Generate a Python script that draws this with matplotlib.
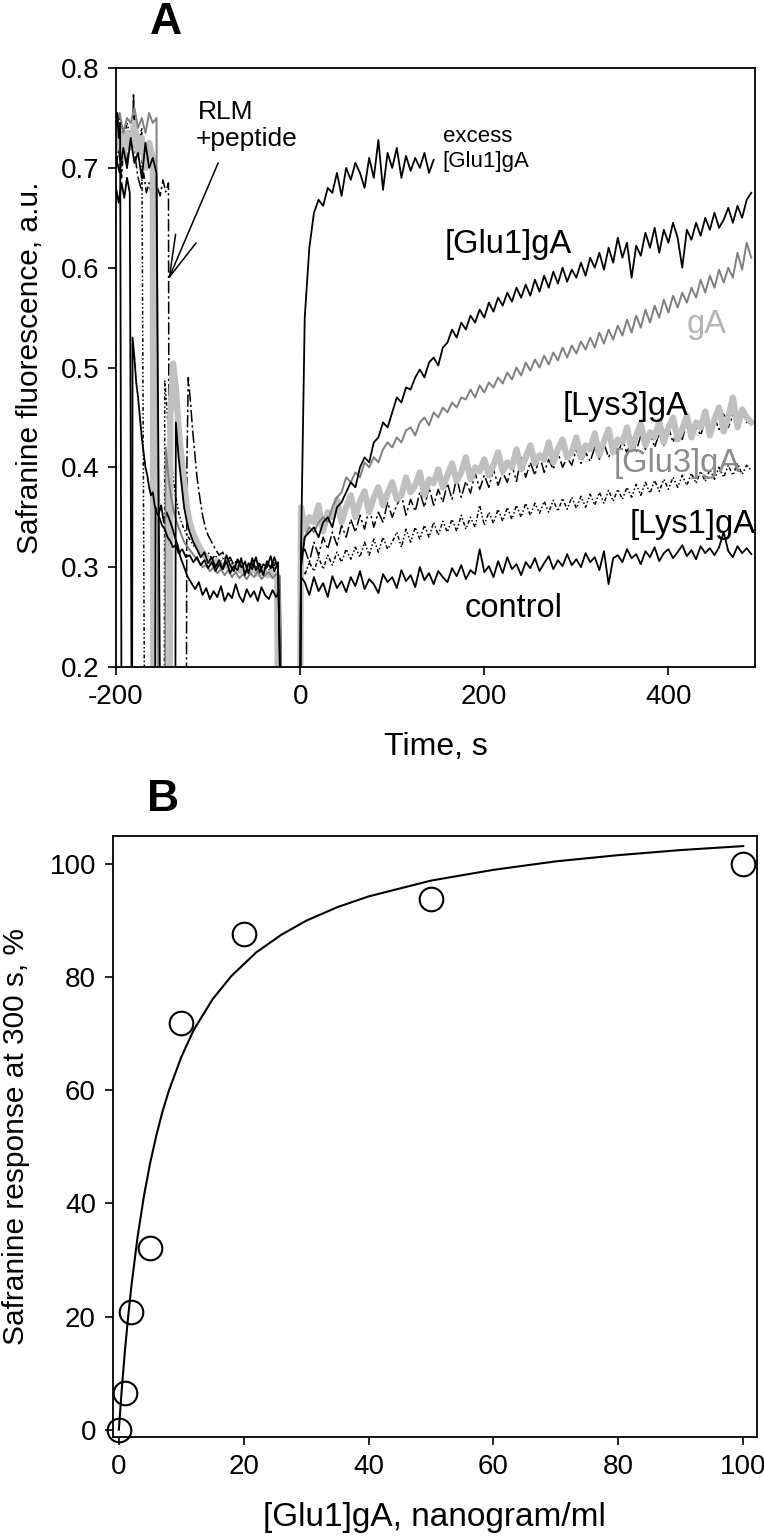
import numpy as np
import matplotlib
matplotlib.use("Agg")
import matplotlib.pyplot as plt

NARROW = ['Liberation Sans Narrow', 'Liberation Sans', 'DejaVu Sans']
REG = ['Liberation Sans', 'DejaVu Sans']
plt.rcParams['font.family'] = REG
plt.rcParams['axes.unicode_minus'] = False

# ---------------- Panel A data ----------------
# common post-addition time grid (s)
T_POST = [1] + list(range(5, 491, 5))

# excess [Glu1]gA
EXC_PRE_T = [-200, -198.5, -197, -195.5, -194, -182.5, -182, -180, -178, -176, -174, -172, -170, -168, -166, -164, -162, -160, -158, -156,
             -153, -150, -147, -144, -141, -138, -135, -132, -128, -124, -120, -116, -112, -108, -104, -100,
             -96, -92, -88, -84, -80, -76, -72, -68, -64, -60, -56, -52, -48, -44, -40, -36, -32, -28, -24, -21]
EXC_PRE_V = [0.74, 0.755, 0.73, 0.745, 0.15, 0.15, 0.53, 0.51, 0.485, 0.47, 0.45, 0.43, 0.415, 0.40, 0.392, 0.38, 0.372, 0.375, 0.362, 0.355,
             0.35, 0.342, 0.338, 0.33, 0.326, 0.32, 0.322, 0.314, 0.318, 0.31, 0.312, 0.305, 0.31, 0.302, 0.307, 0.299,
             0.305, 0.296, 0.303, 0.298, 0.306, 0.294, 0.301, 0.297, 0.309, 0.292, 0.304, 0.298, 0.31, 0.295, 0.303, 0.3, 0.311, 0.296, 0.305, 0.15]
EXC_POST = [0.32, 0.55, 0.62, 0.655, 0.668, 0.662, 0.68, 0.675, 0.695, 0.672,
            0.70, 0.688, 0.705, 0.695, 0.68, 0.71, 0.69, 0.728, 0.678, 0.715,
            0.70, 0.72, 0.69, 0.712, 0.697, 0.71, 0.70, 0.715, 0.695, 0.708]

# control
CTL_PRE_T = [-200, -197, -194, -191, -188, -185, -183, -157.5, -157, -154, -151, -148, -145, -142, -139, -136, -133, -130,
             -126, -122, -118, -114, -110, -106, -102, -98, -94, -90, -86, -82, -78, -74, -70, -66, -62, -58, -54, -50,
             -46, -42, -38, -34, -30, -26, -22, -20]
CTL_PRE_V = [0.68, 0.665, 0.685, 0.67, 0.69, 0.675, 0.15, 0.15, 0.36, 0.352, 0.362, 0.345, 0.355, 0.348, 0.34, 0.33, 0.322, 0.31,
             0.3, 0.29, 0.284, 0.278, 0.285, 0.272, 0.279, 0.268, 0.276, 0.27, 0.281, 0.266, 0.274, 0.269, 0.283, 0.271, 0.265, 0.278, 0.27, 0.276,
             0.266, 0.28, 0.272, 0.268, 0.277, 0.27, 0.278, 0.15]
CTL_POST = [0.29, 0.285, 0.272, 0.29, 0.276, 0.284, 0.27, 0.291, 0.279, 0.286,
            0.275, 0.29, 0.281, 0.296, 0.278, 0.288, 0.283, 0.274, 0.293, 0.285,
            0.29, 0.279, 0.297, 0.286, 0.292, 0.28, 0.3, 0.287, 0.294, 0.283,
            0.296, 0.29, 0.285, 0.299, 0.291, 0.302, 0.288, 0.297, 0.293, 0.318,
            0.295, 0.301, 0.29, 0.306, 0.294, 0.31, 0.298, 0.303, 0.292, 0.305,
            0.299, 0.309, 0.296, 0.304, 0.311, 0.298, 0.307, 0.301, 0.313, 0.302,
            0.308, 0.3, 0.314, 0.305, 0.31, 0.297, 0.316, 0.283, 0.309, 0.312,
            0.305, 0.318, 0.309, 0.313, 0.303, 0.316, 0.31, 0.32, 0.306, 0.314,
            0.318, 0.309, 0.315, 0.322, 0.311, 0.317, 0.308, 0.321, 0.314, 0.319,
            0.312, 0.32, 0.335, 0.316, 0.31, 0.321, 0.314, 0.319, 0.313]

# [Glu1]gA
GLU1_PRE_T = [-200, -196, -192, -188, -184, -180, -176, -172, -168, -164, -160, -156, -152, -135.5, -135,
              -132, -129, -126, -123, -120, -116, -112, -108, -104, -100, -96, -92, -88, -84, -80, -76, -72, -68, -64,
              -60, -56, -52, -48, -44, -40, -36, -32, -28, -24, -21]
GLU1_PRE_V = [0.71, 0.695, 0.72, 0.70, 0.73, 0.705, 0.715, 0.69, 0.725, 0.70, 0.71, 0.695, 0.15, 0.15, 0.445,
              0.41, 0.385, 0.36, 0.345, 0.335, 0.325, 0.318, 0.31, 0.315, 0.304, 0.31, 0.3, 0.307, 0.298, 0.312, 0.302, 0.296, 0.308, 0.3,
              0.305, 0.294, 0.309, 0.297, 0.303, 0.292, 0.306, 0.299, 0.31, 0.298, 0.15]
GLU1_POST = [0.30, 0.33, 0.335, 0.34, 0.33, 0.345, 0.35, 0.34, 0.36, 0.365,
             0.375, 0.385, 0.38, 0.40, 0.41, 0.405, 0.425, 0.43, 0.445, 0.44,
             0.455, 0.47, 0.465, 0.48, 0.478, 0.49, 0.498, 0.49, 0.505, 0.51,
             0.502, 0.52, 0.525, 0.538, 0.53, 0.545, 0.538, 0.552, 0.545, 0.558,
             0.55, 0.565, 0.556, 0.57, 0.562, 0.575, 0.566, 0.58, 0.57, 0.583,
             0.572, 0.588, 0.576, 0.592, 0.58, 0.596, 0.584, 0.6, 0.586, 0.598,
             0.59, 0.605, 0.592, 0.61, 0.6, 0.615, 0.598, 0.62, 0.605, 0.63,
             0.61, 0.625, 0.59, 0.622, 0.612, 0.635, 0.62, 0.64, 0.615, 0.638,
             0.625, 0.645, 0.63, 0.6, 0.638, 0.628, 0.645, 0.632, 0.65, 0.638,
             0.655, 0.64, 0.648, 0.66, 0.645, 0.662, 0.65, 0.668, 0.675]

# gA
GA_PRE_T = [-200, -196, -192, -188, -184, -180, -176, -172, -168, -164, -160, -156, -154, -146.5, -146,
            -143, -140, -137, -134, -130, -126, -122, -118, -114, -110, -106, -102, -98, -94, -90, -86, -82, -78, -74,
            -70, -66, -62, -58, -54, -50, -46, -42, -38, -34, -30, -26, -22, -20]
GA_PRE_V = [0.74, 0.755, 0.735, 0.75, 0.745, 0.76, 0.74, 0.75, 0.735, 0.755, 0.745, 0.75, 0.15, 0.15, 0.42,
            0.39, 0.37, 0.355, 0.345, 0.335, 0.325, 0.32, 0.315, 0.31, 0.305, 0.3, 0.302, 0.296, 0.3, 0.294, 0.298, 0.292, 0.297, 0.29,
            0.295, 0.289, 0.293, 0.288, 0.294, 0.29, 0.296, 0.288, 0.292, 0.295, 0.289, 0.293, 0.291, 0.15]
GA_POST = [0.31, 0.33, 0.34, 0.335, 0.345, 0.35, 0.345, 0.36, 0.37, 0.375,
           0.39, 0.385, 0.395, 0.39, 0.405, 0.40, 0.41, 0.405, 0.418, 0.425,
           0.42, 0.43, 0.425, 0.437, 0.44, 0.432, 0.445, 0.45, 0.442, 0.455,
           0.45, 0.46, 0.455, 0.465, 0.46, 0.47, 0.468, 0.478, 0.47, 0.482,
           0.475, 0.485, 0.48, 0.49, 0.484, 0.495, 0.488, 0.5, 0.492, 0.505,
           0.497, 0.508, 0.5, 0.512, 0.503, 0.515, 0.507, 0.52, 0.51, 0.522,
           0.514, 0.526, 0.518, 0.53, 0.52, 0.535, 0.524, 0.538, 0.528, 0.542,
           0.532, 0.548, 0.535, 0.552, 0.54, 0.558, 0.545, 0.562, 0.55, 0.568,
           0.555, 0.572, 0.56, 0.575, 0.565, 0.58, 0.57, 0.588, 0.575, 0.592,
           0.58, 0.598, 0.585, 0.6, 0.59, 0.615, 0.598, 0.625, 0.61]

# thick light-grey trace
GRY_PRE_T = [-200, -196, -192, -188, -184, -180, -176, -172, -168, -164, -160, -159.5, -141.5, -141,
             -138, -135, -132, -129, -126, -123, -120, -116, -112, -108, -104, -100,
             -95, -90, -85, -80, -75, -70, -65, -60, -55, -50, -45, -40, -35, -30, -25, -24]
GRY_PRE_V = [0.72, 0.74, 0.71, 0.735, 0.72, 0.745, 0.715, 0.73, 0.70, 0.725, 0.71, 0.15, 0.15, 0.45,
             0.504, 0.48, 0.44, 0.41, 0.385, 0.36, 0.345, 0.333, 0.325, 0.318, 0.312, 0.308,
             0.304, 0.306, 0.3, 0.303, 0.298, 0.301, 0.296, 0.3, 0.295, 0.298, 0.293, 0.297, 0.292, 0.296, 0.29, 0.15]
GRY_POST = [0.36, 0.338, 0.35, 0.345, 0.362, 0.336, 0.355, 0.35, 0.368, 0.345,
            0.36, 0.372, 0.35, 0.366, 0.376, 0.355, 0.37, 0.38, 0.362, 0.374,
            0.385, 0.368, 0.372, 0.39, 0.375, 0.382, 0.395, 0.372, 0.388, 0.384,
            0.398, 0.38, 0.392, 0.404, 0.386, 0.395, 0.41, 0.388, 0.4, 0.396,
            0.408, 0.392, 0.402, 0.415, 0.396, 0.405, 0.4, 0.418, 0.398, 0.41,
            0.422, 0.404, 0.412, 0.408, 0.425, 0.405, 0.418, 0.428, 0.41, 0.415,
            0.43, 0.41, 0.422, 0.418, 0.434, 0.412, 0.426, 0.438, 0.415, 0.428,
            0.425, 0.44, 0.418, 0.432, 0.444, 0.422, 0.435, 0.43, 0.446, 0.425,
            0.44, 0.45, 0.428, 0.438, 0.452, 0.43, 0.445, 0.44, 0.456, 0.432,
            0.448, 0.46, 0.436, 0.45, 0.47, 0.44, 0.458, 0.45, 0.445]

# dash-dot trace (upper)
DD_PRE_T = [-200, -197, -194, -191, -188, -185, -182, -181, -179, -176, -173, -170, -167, -164, -161, -158, -155, -152, -149, -146, -143, -142,
            -123.5, -123, -121.5, -119, -117, -115, -112, -109, -106, -103, -100,
            -96, -92, -88, -84, -80, -76, -72, -68, -64, -60, -56, -52, -48, -44, -40, -36, -32, -28, -24, -21]
DD_PRE_V = [0.70, 0.72, 0.69, 0.73, 0.70, 0.735, 0.72, 0.775, 0.71, 0.69, 0.68, 0.695, 0.675, 0.685, 0.67, 0.69, 0.68, 0.672, 0.688, 0.676, 0.685, 0.15,
            0.15, 0.40, 0.49, 0.465, 0.44, 0.42, 0.39, 0.37, 0.352, 0.34, 0.332,
            0.325, 0.318, 0.312, 0.315, 0.306, 0.31, 0.302, 0.308, 0.3, 0.306, 0.298, 0.304, 0.297, 0.302, 0.295, 0.3, 0.296, 0.303, 0.298, 0.15]
DD_POST = [0.31, 0.318, 0.305, 0.325, 0.312, 0.33, 0.318, 0.335, 0.322, 0.342,
           0.33, 0.348, 0.335, 0.352, 0.338, 0.36, 0.34, 0.355, 0.345, 0.365,
           0.35, 0.362, 0.372, 0.352, 0.368, 0.356, 0.375, 0.36, 0.38, 0.362,
           0.378, 0.365, 0.384, 0.368, 0.39, 0.37, 0.386, 0.374, 0.395, 0.378,
           0.392, 0.38, 0.398, 0.382, 0.395, 0.385, 0.402, 0.386, 0.41, 0.39,
           0.405, 0.392, 0.412, 0.395, 0.408, 0.398, 0.415, 0.4, 0.41, 0.402,
           0.418, 0.404, 0.415, 0.406, 0.42, 0.408, 0.424, 0.41, 0.42, 0.412,
           0.428, 0.414, 0.43, 0.416, 0.432, 0.418, 0.436, 0.42, 0.434, 0.422,
           0.44, 0.425, 0.438, 0.428, 0.445, 0.43, 0.442, 0.432, 0.448, 0.435,
           0.45, 0.438, 0.455, 0.44, 0.452, 0.442, 0.458, 0.445, 0.448]

# dotted trace (lower)
DT_PRE_T = [-200, -196, -192, -188, -184, -180, -176, -172, -169, -147.5, -147,
            -144, -141, -138, -135, -132, -129, -126, -123, -120,
            -116, -112, -108, -104, -100, -96, -92, -88, -84, -80, -76, -72, -68, -64, -60, -56, -52, -48, -44, -40,
            -36, -32, -28, -24, -21]
DT_PRE_V = [0.735, 0.75, 0.725, 0.745, 0.73, 0.75, 0.72, 0.74, 0.15, 0.15, 0.487,
            0.45, 0.415, 0.39, 0.37, 0.355, 0.345, 0.338, 0.333, 0.328,
            0.322, 0.318, 0.32, 0.312, 0.315, 0.308, 0.312, 0.304, 0.309, 0.302, 0.307, 0.3, 0.305, 0.298, 0.304, 0.296, 0.302, 0.299, 0.305, 0.297,
            0.303, 0.3, 0.306, 0.298, 0.15]
DT_POST = [0.30, 0.292, 0.305, 0.296, 0.31, 0.298, 0.312, 0.302, 0.315, 0.305,
           0.318, 0.308, 0.32, 0.31, 0.325, 0.312, 0.328, 0.315, 0.33, 0.318,
           0.325, 0.335, 0.32, 0.338, 0.325, 0.34, 0.328, 0.342, 0.33, 0.345,
           0.332, 0.346, 0.335, 0.348, 0.336, 0.352, 0.338, 0.35, 0.34, 0.362,
           0.342, 0.355, 0.344, 0.358, 0.346, 0.36, 0.348, 0.362, 0.35, 0.364,
           0.352, 0.364, 0.354, 0.366, 0.355, 0.367, 0.356, 0.369, 0.358, 0.37,
           0.359, 0.371, 0.36, 0.373, 0.362, 0.375, 0.364, 0.377, 0.366, 0.378,
           0.368, 0.38, 0.37, 0.383, 0.372, 0.385, 0.374, 0.387, 0.376, 0.388,
           0.378, 0.39, 0.38, 0.392, 0.382, 0.394, 0.384, 0.396, 0.386, 0.398,
           0.388, 0.4, 0.39, 0.402, 0.392, 0.404, 0.393, 0.402, 0.397]

# ---------------- Panel B data ----------------
CONC = [0, 1, 2, 5, 10, 20, 50, 100]
RESP = [0, 6.5, 20.8, 32.2, 72, 87.6, 93.8, 100]
FIT_X = [0, 0.5, 1, 1.5, 2, 3, 4, 5, 6, 7, 8, 10, 12, 15, 18, 22, 26, 30, 35, 40, 50, 60, 70, 80, 90, 100]
FIT_Y = [0, 7.65, 14.3, 20.1, 25.3, 34.1, 41.2, 47.1, 52.0, 56.3, 59.9, 65.9, 70.7, 76.1, 80.2, 84.4, 87.5, 90.0,
         92.4, 94.3, 97.1, 99.0, 100.5, 101.6, 102.5, 103.2]


def full(pre_t, pre_v, post_t, post_v):
    t = list(pre_t) + [0] + list(post_t)
    v = list(pre_v) + [0.15] + list(post_v)
    return np.array(t, float), np.array(v, float)


fig = plt.figure(figsize=(7.64, 15.4), dpi=100)
axA = fig.add_axes([0.1518, 0.5669, 0.8364, 0.3889])
axB = fig.add_axes([0.1474, 0.0669, 0.8434, 0.3903])

BLACK = '#000000'
MGREY = '#808080'
LGREY = '#c0c0c0'

t, v = full(DT_PRE_T, DT_PRE_V, T_POST, DT_POST)
axA.plot(t, v, color=BLACK, lw=1.1, ls=(0, (2.5, 1.5, 1, 1.5, 1, 1.5)))
t, v = full(DD_PRE_T, DD_PRE_V, T_POST, DD_POST)
axA.plot(t, v, color=BLACK, lw=1.1, ls=(0, (8, 2, 1.5, 2)))
t, v = full(GRY_PRE_T, GRY_PRE_V, T_POST, GRY_POST)
axA.plot(t, v, color=LGREY, lw=4.5, solid_joinstyle='round')
t, v = full(CTL_PRE_T, CTL_PRE_V, T_POST, CTL_POST)
axA.plot(t, v, color=BLACK, lw=1.3)
t, v = full(GA_PRE_T, GA_PRE_V, T_POST, GA_POST)
axA.plot(t, v, color=MGREY, lw=1.4)
t, v = full(GLU1_PRE_T, GLU1_PRE_V, T_POST, GLU1_POST)
axA.plot(t, v, color=BLACK, lw=1.3)
t, v = full(EXC_PRE_T, EXC_PRE_V, T_POST[:len(EXC_POST)], EXC_POST)
axA.plot(t, v, color=BLACK, lw=1.3)

axA.set_xlim(-200, 494)
axA.set_ylim(0.2, 0.8)
axA.set_xticks([-200, 0, 200, 400])
axA.set_yticks([0.2, 0.3, 0.4, 0.5, 0.6, 0.7, 0.8])
axA.set_yticklabels(['0.2', '0.3', '0.4', '0.5', '0.6', '0.7', '0.8'])

for ax in (axA, axB):
    for s in ax.spines.values():
        s.set_linewidth(1.3)
    ax.tick_params(direction='out', length=6, width=1.2, labelsize=20, pad=6)

axA.set_xlabel('Time, s', family=NARROW, fontsize=23, labelpad=16)
axA.set_ylabel('Safranine fluorescence, a.u.', family=REG, fontsize=21.5, labelpad=12)

# annotations panel A
axA.text(155, 0.726, 'excess', fontsize=16, ha='left', va='baseline')
axA.text(155, 0.701, '[Glu1]gA', fontsize=16, ha='left', va='baseline')
axA.text(157, 0.615, '[Glu1]gA', fontsize=23.5, ha='left', va='baseline')
axA.text(420, 0.535, 'gA', fontsize=23.5, color='#b4b4b4', ha='left', va='baseline')
axA.text(285, 0.452, '[Lys3]gA', fontsize=23.5, ha='left', va='baseline')
axA.text(341, 0.395, '[Glu3]gA', fontsize=23.5, color='#8c8c8c', ha='left', va='baseline')
axA.text(358, 0.334, '[Lys1]gA', fontsize=23.5, ha='left', va='baseline')
axA.text(179, 0.25, 'control', fontsize=23.5, ha='left', va='baseline')
axA.text(-111, 0.749, 'RLM', fontsize=19, ha='left', va='baseline')
axA.text(-113, 0.722, '+peptide', fontsize=19, ha='left', va='baseline')
axA.annotate('', xy=(-143.2, 0.588), xytext=(-89, 0.705),
             arrowprops=dict(arrowstyle='->,head_length=1.5,head_width=0.4', mutation_scale=20,
                             lw=1.1, color=BLACK, shrinkA=0, shrinkB=0))

# ---------------- Panel B ----------------
axB.plot(FIT_X, FIT_Y, color=BLACK, lw=1.5)
axB.plot(CONC, RESP, ls='none', marker='o', ms=17, mfc='none', mec=BLACK, mew=1.5, clip_on=False)
axB.set_xlim(-1, 102.2)
axB.set_ylim(-1.3, 105)
axB.set_xticks([0, 20, 40, 60, 80, 100])
axB.set_yticks([0, 20, 40, 60, 80, 100])
axB.set_xlabel('[Glu1]gA, nanogram/ml', family=NARROW, fontsize=24, labelpad=16)
axB.set_ylabel('Safranine response at 300 s, %', family=REG, fontsize=21.5, labelpad=14)

for ax in (axA, axB):
    for lab in ax.get_xticklabels() + ax.get_yticklabels():
        lab.set_family(NARROW)

fig.text(166 / 764, 1 - 22 / 1540, 'A', family=NARROW, fontweight='bold', fontsize=32, ha='center', va='center')
fig.text(163 / 764, 1 - 800 / 1540, 'B', family=NARROW, fontweight='bold', fontsize=32, ha='center', va='center')

fig.savefig('out.png', dpi=100)
